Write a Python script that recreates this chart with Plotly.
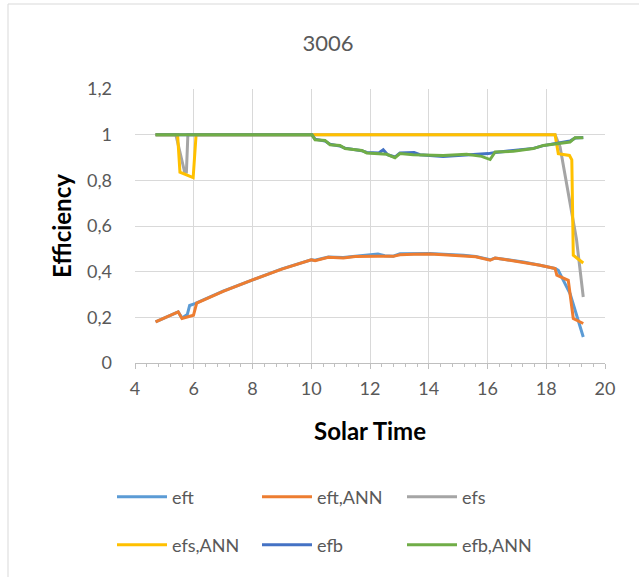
import plotly.graph_objects as go

# ---------------- data ----------------
eft_x = [4.70, 5.47, 5.60, 5.78, 5.86, 6.04, 7.0, 8.0, 9.0, 10.0, 10.13, 10.58, 11.09, 11.5, 11.77,
         12.27, 12.5, 12.79, 13.02, 13.5, 14.04, 14.5, 15.18, 15.6, 16.0, 16.09, 16.26, 16.7,
         17.22, 17.79, 18.30, 18.41, 18.81, 19.26]
eft_y = [0.180, 0.224, 0.197, 0.212, 0.252, 0.260, 0.315, 0.365, 0.412, 0.452, 0.450, 0.464, 0.462,
         0.468, 0.470, 0.477, 0.470, 0.468, 0.478, 0.480, 0.480, 0.476, 0.472, 0.466, 0.455, 0.452,
         0.460, 0.452, 0.442, 0.428, 0.414, 0.406, 0.304, 0.114]

eft_ann_x = [4.70, 5.47, 5.60, 5.99, 6.10, 7.0, 8.0, 9.0, 10.0, 10.13, 10.58, 11.09, 11.5, 11.77,
             12.27, 12.79, 13.02, 13.5, 14.04, 14.5, 15.18, 15.6, 16.09, 16.26, 16.7, 17.22, 17.79,
             18.30, 18.36, 18.75, 18.92, 19.26]
eft_ann_y = [0.180, 0.224, 0.195, 0.209, 0.262, 0.314, 0.364, 0.411, 0.452, 0.448, 0.463, 0.460,
             0.466, 0.467, 0.468, 0.467, 0.474, 0.476, 0.477, 0.474, 0.470, 0.465, 0.450, 0.460,
             0.451, 0.441, 0.428, 0.414, 0.385, 0.362, 0.195, 0.173]

efs_x = [4.70, 5.39, 5.69, 5.75, 5.80, 18.30, 18.47, 19.03, 19.26]
efs_y = [1.000, 1.000, 0.836, 0.836, 1.000, 1.000, 0.946, 0.541, 0.289]

efs_ann_x = [4.70, 5.45, 5.53, 5.98, 6.08, 18.30, 18.41, 18.79, 18.87, 18.92, 19.26]
efs_ann_y = [1.000, 1.000, 0.836, 0.812, 1.000, 1.000, 0.917, 0.909, 0.890, 0.472, 0.438]

efb_x = [4.70, 10.02, 10.13, 10.47, 10.64, 10.98, 11.15, 11.72, 11.89, 12.30, 12.45, 12.60, 12.85,
         13.02, 13.50, 13.70, 14.49, 15.29, 15.80, 16.03, 16.26, 16.88, 17.56, 17.90, 18.35,
         18.81, 18.98, 19.26]
efb_y = [1.000, 1.000, 0.980, 0.972, 0.958, 0.950, 0.941, 0.930, 0.922, 0.920, 0.934, 0.912, 0.902,
         0.920, 0.922, 0.912, 0.904, 0.910, 0.912, 0.917, 0.922, 0.930, 0.940, 0.952, 0.962,
         0.972, 0.985, 0.988]

efb_ann_x = [4.70, 10.02, 10.13, 10.47, 10.64, 10.98, 11.15, 11.72, 11.89, 12.57, 12.85, 13.02,
             13.47, 14.49, 15.29, 15.80, 16.09, 16.26, 16.88, 17.56, 17.90, 18.35, 18.81, 18.98, 19.26]
efb_ann_y = [1.000, 1.000, 0.978, 0.975, 0.956, 0.953, 0.939, 0.931, 0.920, 0.914, 0.899, 0.917,
             0.912, 0.909, 0.914, 0.905, 0.891, 0.924, 0.927, 0.939, 0.953, 0.960, 0.968, 0.987, 0.987]

series_names = ["eft", "eft,ANN", "efs", "efs,ANN", "efb", "efb,ANN"]
series_colors = ["#5B9BD5", "#ED7D31", "#A5A5A5", "#FFC000", "#4472C4", "#70AD47"]
series_legend = ["legend", "legend", "legend", "legend2", "legend2", "legend2"]

y_tick_vals = [0, 0.2, 0.4, 0.6, 0.8, 1.0, 1.2]
y_tick_text = ["0", "0,2", "0,4", "0,6", "0,8", "1", "1,2"]
x_tick_vals = [4, 6, 8, 10, 12, 14, 16, 18, 20]
x_tick_text = ["4", "6", "8", "10", "12", "14", "16", "18", "20"]

chart_title = "3006"
x_title = "Solar Time"
y_title = "Efficiency"

# ---------------- figure ----------------
FONT = "Lato, 'Open Sans', sans-serif"
TEXT = "#595959"
GRID = "#D9D9D9"

xs = [eft_x, eft_ann_x, efs_x, efs_ann_x, efb_x, efb_ann_x]
ys = [eft_y, eft_ann_y, efs_y, efs_ann_y, efb_y, efb_ann_y]

fig = go.Figure()
for x, y, n, c, lg in zip(xs, ys, series_names, series_colors, series_legend):
    fig.add_trace(go.Scatter(x=x, y=y, name=n, mode="lines",
                             line=dict(color=c, width=3),
                             legend=lg, hoverinfo="skip"))

W, H = 639, 577
ML, MR, MT, MB = 135, 34, 89, 214
pw, ph = W - ML - MR, H - MT - MB

def px2paper_x(px):
    return (px - ML) / pw

def px2paper_y(py):
    return (H - MB - py) / ph

legend_common = dict(orientation="h", xanchor="left", yanchor="middle",
                     entrywidth=80, entrywidthmode="pixels",
                     font=dict(size=18, color=TEXT), bgcolor="rgba(0,0,0,0)",
                     itemwidth=50)

fig.update_layout(
    width=W, height=H,
    margin=dict(l=ML, r=MR, t=MT, b=MB, autoexpand=False),
    paper_bgcolor="white", plot_bgcolor="white",
    font=dict(family=FONT, color=TEXT, size=18),
    title=dict(text=chart_title, x=328 / W, xanchor="center", xref="container",
               y=1 - 43 / H, yanchor="middle", yref="container",
               font=dict(size=22, color=TEXT, family=FONT)),
    xaxis=dict(range=[4, 20], tickvals=x_tick_vals, ticktext=x_tick_text,
               showgrid=True, gridcolor=GRID, gridwidth=1,
               showline=True, linecolor="#BFBFBF", linewidth=1,
               ticks="outside", ticklen=5, tickcolor="#BFBFBF",
               minor=dict(dtick=0.4, tick0=4, ticks="outside", ticklen=3,
                          tickcolor="#BFBFBF", showgrid=False),
               zeroline=False, ticklabelstandoff=4,
               tickfont=dict(size=18, color=TEXT),
               title=dict(text="<b>" + x_title + "</b>", standoff=25,
                          font=dict(size=24, color="black"))),
    yaxis=dict(range=[0, 1.2], tickvals=y_tick_vals, ticktext=y_tick_text,
               showgrid=True, gridcolor=GRID, gridwidth=1,
               showline=False, zeroline=False, ticks="",
               ticklabelstandoff=22,
               tickfont=dict(size=18, color=TEXT),
               title=dict(text="<b>" + y_title + "</b>", standoff=8,
                          font=dict(size=24, color="black"))),
    legend=dict(x=px2paper_x(112), y=px2paper_y(497), **legend_common),
    legend2=dict(x=px2paper_x(112), y=px2paper_y(545), **legend_common),
    showlegend=True,
    shapes=[dict(type="rect", xref="paper", yref="paper",
                 x0=px2paper_x(8), x1=px2paper_x(700),
                 y0=px2paper_y(700), y1=px2paper_y(4),
                 line=dict(color="#D9D9D9", width=1), fillcolor="rgba(0,0,0,0)",
                 layer="below")],
)

fig.write_html("out.html", config={"displayModeBar": False},
               post_script="document.body.style.margin='0px';")
